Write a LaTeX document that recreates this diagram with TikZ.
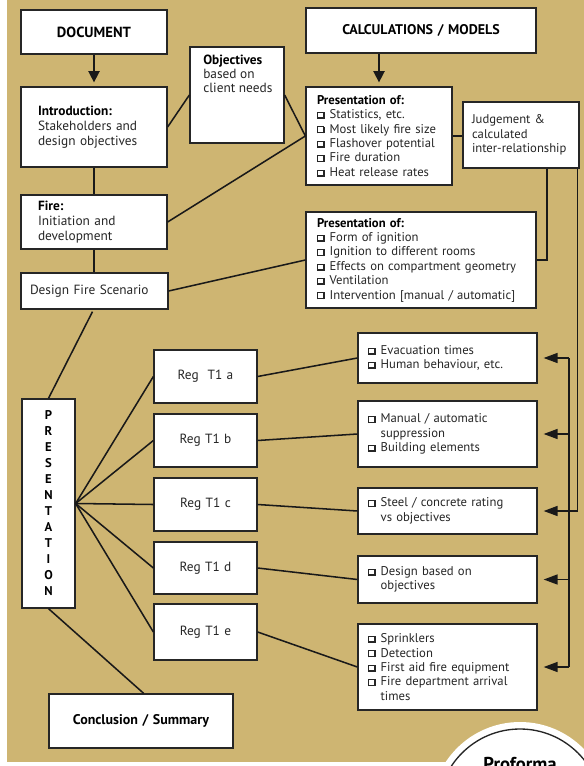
\documentclass[tikz,border=0pt]{standalone}
\usepackage{fontspec}
\setmainfont{PT Sans}
\usetikzlibrary{arrows.meta}
\definecolor{tanbg}{RGB}{206,181,114}
\definecolor{ink}{RGB}{38,38,38}
\newcommand\sqbox{\raisebox{-0.2pt}{%
  \rlap{\rule{0.45pt}{5.2pt}}%
  \rlap{\raisebox{4.75pt}{\rule{5pt}{0.45pt}}}%
  \rlap{\rule{5.8pt}{1.15pt}}%
  \rlap{\hspace{4.65pt}\rule{1.15pt}{5.2pt}}}}
\newcommand\ck{\makebox[9.5pt][l]{\sqbox}}
\newcommand\ckk{\hspace*{9.5pt}}
\newcommand\bnode[8]{%
  \pgfmathsetmacro\bw{(#4-#2-2*#6)*0.75}%
  \pgfmathsetmacro\bp{#6*0.75}%
  \pgfmathsetmacro\bh{(#5-#3)*0.75}%
  \pgfmathsetmacro\bcx{(#2+#4)/2}%
  \pgfmathsetmacro\bcy{(#3+#5)/2}%
  \node[box,#7,text width=\bw pt,inner xsep=\bp pt,minimum height=\bh pt] (#1) at (\bcx,\bcy) {#8};}
\tikzset{
  box/.style={draw=black!85,line width=0.95pt,fill=white,inner ysep=0pt,text=ink,align=left,
    font=\fontsize{9.5}{10.8}\selectfont},
  conn/.style={line width=1.15pt,draw=black!90},
  darr/.style={conn,-{Triangle[length=8.5pt,width=8.5pt]},shorten >=3pt},
  larr/.style={conn,-{Triangle[length=10.5pt,width=7.5pt]},shorten >=4.5pt},
  head/.style={align=center,text=black,font=\bfseries\fontsize{10.5}{12}\selectfont}
}
\begin{document}
\begin{tikzpicture}[x=0.75pt,y=-0.75pt]
\useasboundingbox (0,0) rectangle (584,766);
\begin{scope}
\clip (0,0) rectangle (584,766);
\fill[white] (0,0) rectangle (584,766);
\fill[tanbg] (7,0) rectangle (584,762);
% Proforma seal
\fill[white] (520,811) circle (66.75pt);
\draw[line width=1pt,black!85] (520,811) circle (61.5pt);
\node[anchor=north,inner sep=0pt,font=\bfseries\fontsize{14}{16}\selectfont] (pf) at (520,757) {Proforma};

% left column
\bnode{doc}{21}{10}{167}{54}{4}{head,font=\bfseries\fontsize{11}{13}\selectfont}{DOCUMENT}
\bnode{intro}{21}{87}{167}{167}{17}{font=\fontsize{10}{11.25}\selectfont}{\textbf{\color{black}Introduction:}\\Stakeholders and\\design objectives}
\bnode{obj}{190}{47}{284}{143}{6}{}{}
\node[anchor=north west,inner sep=0pt,align=left,text=ink,font=\fontsize{10}{10.5}\selectfont] (objt) at (203,55) {\textbf{\color{black}Objectives}\\based on\\client needs};
\bnode{fire}{21}{195}{167}{249}{17}{font=\fontsize{10}{11.25}\selectfont}{\textbf{\color{black}Fire:}\\Initiation and\\development}
\bnode{dfs}{21}{273}{168}{309}{9}{font=\fontsize{10}{11.25}\selectfont}{Design Fire Scenario}

% top right
\bnode{calc}{306}{8}{536}{53}{4}{head}{CALCULATIONS / MODELS}
\bnode{pres1}{306}{87}{452}{185}{11}{}{\textbf{\color{black}Presentation of:}\\\ck Statistics, etc.\\\ck Most likely fire size\\\ck Flashover potential\\\ck Fire duration\\\ck Heat release rates}
\bnode{judge}{463}{102}{579}{168}{9}{}{Judgement \&\\calculated\\inter-relationship}
\bnode{pres2}{306}{212}{536}{308}{11}{}{\textbf{\color{black}Presentation of:}\\\ck Form of ignition\\\ck Ignition to different rooms\\\ck Effects on compartment geometry\\\ck Ventilation\\\ck Intervention [manual / automatic]}

% presentation column
\bnode{pstn}{22}{399}{75}{608}{2}{align=center,text=black,font=\bfseries\fontsize{9.5}{12}\selectfont}{P\\R\\E\\S\\E\\N\\T\\A\\T\\I\\O\\N}
\bnode{rega}{154}{350}{257}{403}{4}{align=center,font=\fontsize{10}{11}\selectfont}{Reg~~T1 a}
\bnode{regb}{154}{414}{257}{467}{4}{align=center,font=\fontsize{10}{11}\selectfont}{Reg T1 b}
\bnode{regc}{154}{478}{257}{531}{4}{align=center,font=\fontsize{10}{11}\selectfont}{Reg T1 c}
\bnode{regd}{154}{542}{257}{594}{4}{align=center,font=\fontsize{10}{11}\selectfont}{Reg T1 d}
\bnode{rege}{154}{604}{257}{660}{4}{align=center,font=\fontsize{10}{11}\selectfont}{Reg T1 e}
\bnode{concl}{49}{694}{233}{748}{4}{head}{Conclusion / Summary}

% right boxes
\bnode{bxa}{358}{333}{537}{383}{10}{}{\ck Evacuation times\\\ck Human behaviour, etc.}
\bnode{bxb}{358}{401}{537}{467}{10}{}{\ck Manual / automatic\\\ckk suppression\\\ck Building elements}
\bnode{bxc}{358}{488}{537}{534}{10}{}{\ck Steel / concrete rating\\\ckk vs objectives}
\bnode{bxd}{358}{556}{537}{603}{10}{}{\ck Design based on\\\ckk objectives}
\bnode{bxe}{358}{624}{537}{710}{10}{}{\ck Sprinklers\\\ck Detection\\\ck First aid fire equipment\\\ck Fire department arrival\\\ckk times}

% connectors
\draw[darr] (doc.south) -- (intro.north);
\draw[darr] (calc.south -| pres1.north) -- (pres1.north);
\draw[conn] (intro.south) -- (fire.north);
\draw[conn] (fire.south) -- (dfs.north -| fire.south);
\draw[conn] (intro.east) -- (obj.west);
\draw[conn] (obj.east) -- (pres1.west);
\draw[conn] (fire.east) -- (pres1.west);
\draw[conn] (dfs.east) -- (pres2.west);
\draw[conn] (pres1.east) -- (judge.west |- pres1.east);
\draw[conn] ([xshift=19.5pt]judge.south) |- (pres2.east);
\draw[conn] ([xshift=-1.5pt,yshift=-1.5pt]dfs.south) -- (pstn.north);
\draw[conn] (pstn.south) -- ([xshift=2pt]concl.north);
\foreach \r in {rega,regb,regc,regd,rege} \draw[conn] (pstn.east) -- (\r.west);
\draw[conn] (rega.east) -- (bxa.west);
\draw[conn] (regb.east) -- (bxb.west);
\draw[conn] (regc.east) -- (bxc.west);
\draw[conn] (regd.east) -- (bxd.west);
\draw[conn] (rege.east) -- (bxe.west);
\coordinate (bus) at (569,0);
\draw[conn] (bus |- bxa.east) -- (bus |- bxe.east);
\draw[conn] ([xshift=-1.5pt]judge.south east) |- (bus |- bxc.east);
\foreach \b in {bxa,bxb,bxc,bxd,bxe} \draw[larr] (bus |- \b.east) -- (\b.east);
\end{scope}
\end{tikzpicture}
\end{document}
